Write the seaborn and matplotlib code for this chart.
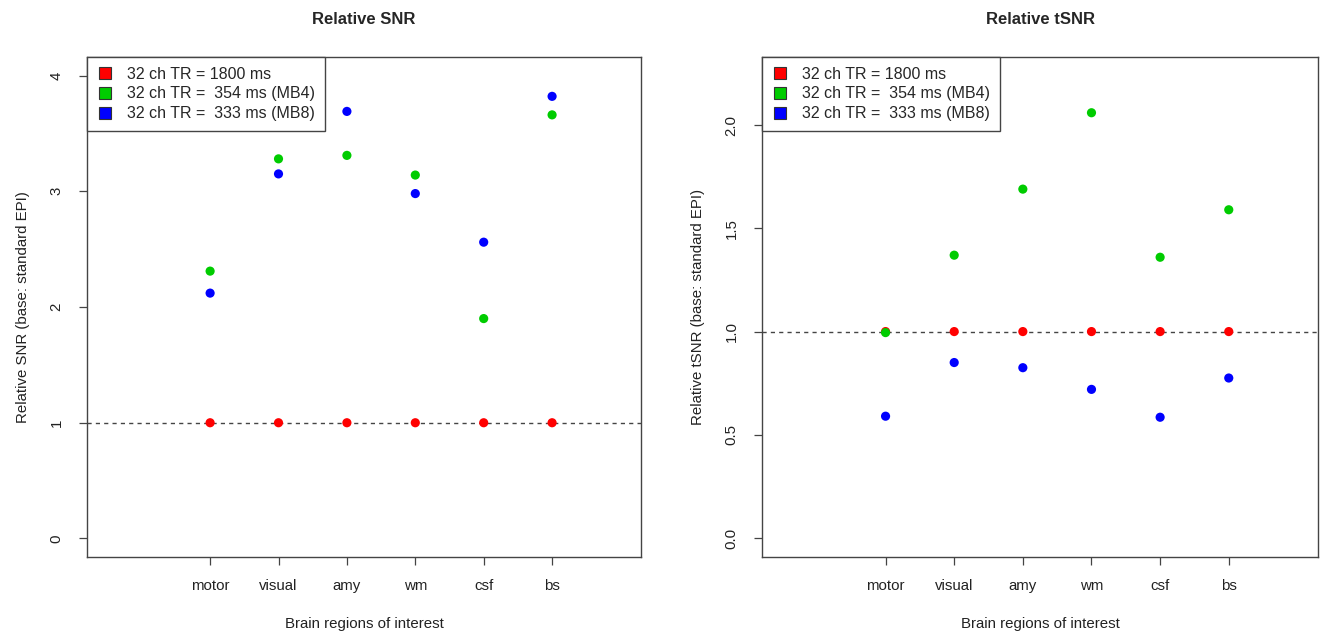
import pandas as pd
import matplotlib
matplotlib.use('Agg')
import matplotlib.pyplot as plt
import seaborn as sns
from matplotlib.lines import Line2D

regions = ["motor", "visual", "amy", "wm", "csf", "bs"]
series = ["32 ch TR = 1800 ms", "32 ch TR =  354 ms (MB4)", "32 ch TR =  333 ms (MB8)"]
colors = ["#ff0000", "#00cc00", "#0000ff"]

snr_1800 = [1.0, 1.0, 1.0, 1.0, 1.0, 1.0]
snr_mb4 = [2.31, 3.28, 3.31, 3.14, 1.90, 3.66]
snr_mb8 = [2.12, 3.15, 3.69, 2.98, 2.56, 3.82]

tsnr_1800 = [1.0, 1.0, 1.0, 1.0, 1.0, 1.0]
tsnr_mb4 = [0.995, 1.37, 1.69, 2.06, 1.36, 1.59]
tsnr_mb8 = [0.59, 0.85, 0.825, 0.72, 0.585, 0.775]

sns.set_style("white")
plt.rcParams['font.family'] = ['Liberation Sans', 'DejaVu Sans']


def long_df(a, b, c):
    frames = []
    for name, vals in zip(series, [a, b, c]):
        frames.append(pd.DataFrame({"region": regions, "value": vals, "run": name}))
    return pd.concat(frames, ignore_index=True)


fig = plt.figure(figsize=(13.26, 6.37), dpi=100)
ax1 = fig.add_axes([87 / 1326, 80 / 637, 554 / 1326, 500 / 637])
ax2 = fig.add_axes([762 / 1326, 80 / 637, 556 / 1326, 500 / 637])

panels = [
    (ax1, long_df(snr_1800, snr_mb4, snr_mb8), "Relative SNR",
     "Relative SNR (base: standard EPI)", (-0.16, 4.16), [0, 1, 2, 3, 4], ["0", "1", "2", "3", "4"]),
    (ax2, long_df(tsnr_1800, tsnr_mb4, tsnr_mb8), "Relative tSNR",
     "Relative tSNR (base: standard EPI)", (-0.092, 2.33), [0, 0.5, 1, 1.5, 2], ["0.0", "0.5", "1.0", "1.5", "2.0"]),
]

for ax, df, title, ylab, ylim, yt, ytl in panels:
    ax.axhline(1.0, color="#444444", lw=1, ls=(0, (3, 3)), zorder=1)
    sns.stripplot(data=df, x="region", y="value", hue="run", hue_order=series,
                  palette=colors, order=regions, jitter=False, dodge=False,
                  size=6.6, linewidth=0, ax=ax, legend=False, zorder=3)
    ax.set_xlim(-1.8, 6.3)
    ax.set_ylim(*ylim)
    ax.set_yticks(yt)
    ax.set_yticklabels(ytl, rotation=90, va="center")
    ax.set_title(title, fontsize=12, fontweight="bold", pad=24)
    ax.set_xlabel("Brain regions of interest", fontsize=10.8, labelpad=17, color="#222222")
    ax.set_ylabel(ylab, fontsize=10.8, labelpad=14, color="#222222")
    ax.tick_params(axis="both", which="both", direction="out", length=6, width=0.9,
                   color="#444444", labelsize=10.8, labelcolor="#222222")
    ax.tick_params(axis="x", pad=10, bottom=True)
    ax.tick_params(axis="y", pad=11, left=True)
    for s in ax.spines.values():
        s.set_color("#444444")
        s.set_linewidth(1.0)

    handles = [Line2D([0], [0], marker="s", ls="", markersize=8.5, markerfacecolor=c,
                      markeredgecolor="#333333", markeredgewidth=0.8) for c in colors]
    leg = ax.legend(handles, series, loc="upper left", borderaxespad=0, fancybox=False,
                    framealpha=1, edgecolor="#444444", fontsize=11.5, handlelength=1.1,
                    handletextpad=0.8, borderpad=0.6, labelspacing=0.3)
    leg.get_frame().set_linewidth(1.0)

fig.savefig("out.png", dpi=100)
